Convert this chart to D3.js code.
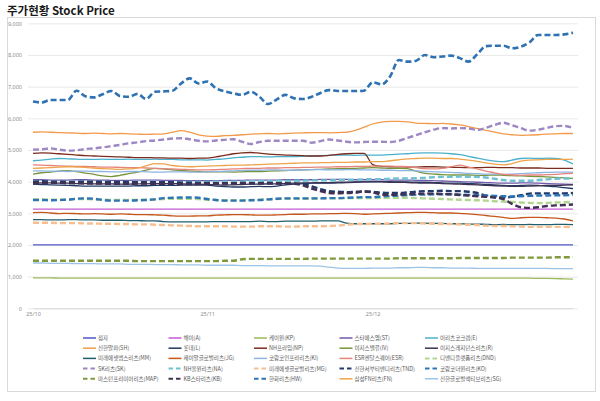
<!DOCTYPE html>
<html><head><meta charset="utf-8">
<script src="https://cdn.jsdelivr.net/npm/d3@7"></script>
<style>
body{margin:0;background:#fff;}
svg{display:block;font-family:"Noto Sans CJK KR","Noto Sans",sans-serif;}
</style></head><body>
<svg id="c" width="600" height="401"></svg>
<script>
// ---------- DATA ----------
const dates = ["10/01","10/02","10/10","10/13","10/14","10/15","10/16","10/17","10/20","10/21",
"10/22","10/23","10/24","10/27","10/28","10/29","10/30","10/31","11/03","11/04",
"11/05","11/06","11/07","11/10","11/11","11/12","11/13","11/14","11/17","11/18",
"11/19","11/20","11/21","11/24","11/25","11/26","11/27","11/28","12/01","12/02",
"12/03","12/04","12/05","12/08","12/09","12/10","12/11","12/12","12/15","12/16",
"12/17","12/18","12/19","12/22","12/23","12/24","12/26","12/29","12/30","01/02",
"01/05","01/06","01/07"];
const tickDates = ["10/01","11/05","12/02"];
const tickLabels = ["25/10","25/11","25/12"];
const yTicks = [0,1000,2000,3000,4000,5000,6000,7000,8000,9000];

const names = ["점자","해이(A)","케이원(KP)","스타에스엠(ST)","이리츠코크렙(E)",
"신한알파(SH)","롯데(L)","NH프라임(NP)","이지스밸류(IV)","이지스레지던스리츠(R)",
"미래에셋맵스리츠(MM)","제이알글로벌리츠(JG)","코람코인프라리츠(KI)","ESR켄달스퀘어(ESR)","디앤디플랫폼리츠(DND)",
"SK리츠(SK)","NH올원리츠(NA)","미래에셋글로벌리츠(MG)","신한서부티엔디리츠(TND)","코람코더원리츠(KO)",
"마스턴프리미어리츠(MAP)","KB스타리츠(KB)","한화리츠(HW)","삼성FN리츠(FN)","신한글로벌액티브리츠(SG)"];

const vJJ = [2000,2000,2000,2000,2000,2000,2000,2000,2000,2000,2000,2000,2000,2000,2000,2000,2000,2000,2000,2000,2000,2000,2000,2000,2000,2000,2000,2000,2000,2000,2000,2000,2000,2000,2000,2000,2000,2000,2000,2000,2000,2000,2000,2000,2000,2000,2000,2000,2000,2000,2000,2000,2000,2000,2000,2000,2000,2000,2000,2000,2000,2000,2000];
const vA = [3130,3130,3130,3130,3130,3130,3130,3130,3130,3130,3130,3130,3130,3130,3130,3130,3130,3130,3130,3130,3130,3130,3130,3130,3130,3130,3130,3130,3130,3130,3130,3130,3130,3130,3130,3130,3130,3130,3130,3130,3130,3130,3130,3130,3130,3130,3130,3130,3130,3130,3130,3130,3130,3130,3130,3130,3130,3130,3130,3130,3130,3130,3130];
const vKP = [960,960,960,955,955,955,955,955,955,955,955,955,955,955,955,955,955,955,955,950,950,950,950,950,950,950,950,950,950,950,950,950,950,950,950,950,950,950,950,950,950,950,950,950,950,950,950,950,950,950,950,950,950,950,950,950,950,950,945,945,940,930,920];
const vST = [4060,4060,4050,4050,4050,4060,4060,4050,4050,4040,4040,4040,4050,4050,4050,4040,4040,4040,4030,4030,4030,4030,4040,4040,4040,4050,4050,4050,4050,4060,4060,4060,4060,4070,4070,4070,4070,4060,4060,4060,4060,4050,4050,4050,4040,4040,4030,4020,4010,4000,3990,3980,3970,3960,3950,3950,3960,3960,3950,3940,3930,3920,3910];
const vE = [4660,4680,4710,4730,4720,4710,4700,4700,4710,4700,4700,4710,4700,4700,4710,4700,4700,4690,4690,4690,4680,4700,4720,4750,4770,4790,4790,4780,4790,4790,4790,4800,4810,4820,4830,4840,4840,4830,4840,4840,4840,4850,4870,4880,4900,4910,4910,4900,4880,4850,4800,4740,4690,4650,4630,4680,4730,4740,4730,4740,4730,4680,4560];
const vSH = [5560,5570,5560,5550,5540,5530,5520,5530,5520,5510,5520,5510,5500,5490,5500,5510,5560,5610,5560,5480,5440,5430,5450,5460,5480,5500,5510,5520,5510,5520,5530,5540,5550,5550,5540,5550,5560,5620,5720,5820,5880,5900,5900,5890,5850,5840,5830,5840,5820,5790,5740,5680,5620,5560,5510,5480,5460,5470,5480,5500,5510,5520,5520];
const vL = [3920,3910,3900,3890,3880,3870,3860,3860,3860,3860,3860,3860,3870,3870,3880,3880,3880,3890,3890,3890,3890,3860,3840,3830,3830,3840,3850,3840,3860,3900,3920,3940,3950,3950,3950,3960,3970,3980,3990,4000,4000,4000,3990,3990,3980,3980,3970,3960,3950,3950,3940,3930,3910,3900,3880,3870,3880,3890,3880,3860,3840,3810,3780];
const vNP = [4890,4910,4900,4880,4860,4840,4820,4810,4800,4790,4780,4770,4760,4760,4750,4750,4740,4740,4730,4740,4740,4780,4830,4880,4910,4920,4900,4870,4850,4840,4830,4820,4810,4810,4830,4860,4880,4890,4890,4540,4480,4470,4470,4460,4460,4470,4470,4460,4450,4450,4440,4440,4450,4450,4440,4440,4430,4430,4430,4420,4420,4420,4420];
const vIV = [4240,4280,4300,4330,4350,4320,4270,4230,4180,4160,4200,4250,4300,4360,4420,4400,4370,4350,4330,4320,4310,4310,4310,4300,4310,4320,4320,4330,4340,4350,4360,4370,4380,4390,4400,4410,4410,4420,4430,4440,4430,4420,4420,4410,4330,4260,4240,4220,4210,4210,4210,4200,4200,4210,4200,4190,4180,4170,4160,4150,4130,4120,4100];
const vR = [3950,3960,3960,3950,3950,3940,3940,3930,3930,3930,3920,3920,3930,3930,3940,3940,3940,3930,3920,3920,3910,3900,3890,3900,3910,3920,3920,3930,3930,3940,3950,3960,3960,3970,3970,3980,3980,3990,3990,3990,3990,3980,3980,3970,3960,3950,3950,3940,3930,3920,3910,3900,3880,3870,3860,3850,3850,3860,3870,3880,3880,3890,3900];
const vMM = [2800,2800,2790,2790,2800,2800,2790,2790,2780,2780,2780,2770,2770,2760,2760,2740,2730,2730,2730,2730,2730,2740,2740,2740,2740,2740,2750,2740,2740,2750,2750,2750,2750,2760,2760,2760,2690,2670,2670,2670,2670,2670,2680,2680,2690,2690,2680,2680,2670,2670,2660,2660,2650,2640,2650,2640,2640,2650,2640,2640,2650,2650,2640];
const vJG = [3020,3030,3010,2990,3000,2990,2980,2990,2980,2970,2980,2970,2960,2960,2950,2940,2920,2910,2910,2920,2920,2940,2950,2960,2960,2950,2940,2940,2950,2960,2970,2970,2980,2980,2990,2990,3000,2990,2970,2980,2990,3000,3010,3020,3030,3030,3020,3010,3010,3000,2980,2960,2930,2900,2870,2840,2860,2870,2870,2860,2850,2820,2760];
const vKI = [4340,4340,4330,4330,4320,4330,4330,4320,4320,4310,4310,4320,4320,4310,4300,4300,4310,4310,4300,4300,4310,4320,4330,4340,4350,4360,4360,4370,4370,4360,4360,4370,4380,4380,4370,4370,4380,4380,4370,4370,4360,4360,4350,4350,4340,4320,4310,4300,4290,4280,4260,4250,4240,4240,4230,4240,4250,4270,4280,4290,4300,4300,4300];
const vESR = [4530,4520,4510,4500,4490,4480,4480,4470,4460,4460,4450,4440,4440,4430,4420,4410,4400,4390,4380,4370,4370,4380,4390,4400,4410,4420,4420,4430,4430,4440,4440,4450,4450,4460,4460,4470,4470,4480,4480,4490,4490,4490,4480,4470,4440,4410,4400,4420,4470,4520,4460,4400,4330,4280,4230,4210,4200,4210,4210,4220,4230,4250,4260];
const vDND = [3440,3440,3430,3430,3440,3450,3450,3440,3430,3420,3420,3420,3420,3430,3440,3450,3460,3460,3460,3450,3430,3420,3410,3410,3410,3420,3430,3440,3450,3460,3460,3460,3460,3470,3470,3470,3480,3480,3480,3480,3490,3490,3490,3490,3480,3470,3460,3450,3440,3430,3420,3410,3400,3380,3370,3360,3340,3330,3320,3330,3340,3350,3360];
const vSK = [5010,5020,5050,5010,4980,4990,5030,5050,5080,5120,5160,5210,5240,5280,5300,5330,5360,5370,5340,5290,5270,5300,5320,5340,5260,5190,5250,5290,5290,5290,5290,5290,5230,5280,5330,5300,5260,5240,5250,5260,5260,5250,5290,5380,5470,5560,5640,5690,5680,5690,5680,5630,5700,5790,5860,5780,5690,5610,5640,5700,5750,5760,5690];
const vNA = [3990,4000,4000,3990,3990,4000,4000,3990,3990,3980,3980,3990,3990,3990,3990,3980,3980,3980,3990,3990,3990,4000,4000,4000,4000,4010,4010,4010,4020,4020,4030,4030,4040,4040,4040,4050,4060,4060,4070,4080,4080,4090,4100,4100,4110,4120,4140,4150,4150,4160,4150,4150,4130,4090,4050,4030,4030,4030,4050,4070,4090,4100,4100];
const vMG = [2700,2700,2700,2690,2690,2690,2680,2680,2670,2670,2660,2660,2650,2650,2640,2630,2620,2610,2600,2590,2590,2590,2590,2580,2580,2580,2590,2590,2590,2580,2580,2590,2590,2590,2600,2610,2640,2660,2660,2670,2670,2680,2690,2690,2690,2680,2670,2660,2660,2650,2640,2630,2610,2600,2600,2590,2580,2570,2570,2570,2570,2570,2560];
const vTND = [4000,4010,4000,4000,3990,3990,4000,4000,3990,3990,3990,3990,3980,3980,3980,3980,3980,3970,3970,3960,3960,3950,3950,3950,3960,3950,3950,3960,3950,3950,3940,3920,3850,3760,3700,3680,3670,3680,3690,3680,3650,3640,3640,3660,3680,3700,3700,3710,3700,3700,3680,3640,3560,3510,3500,3520,3570,3620,3630,3630,3630,3630,3640];
const vKO = [3420,3420,3410,3420,3430,3460,3470,3460,3420,3400,3400,3400,3410,3420,3440,3480,3490,3500,3500,3490,3450,3420,3400,3400,3400,3410,3420,3440,3460,3470,3470,3470,3470,3470,3480,3480,3490,3500,3510,3510,3530,3550,3560,3580,3590,3590,3600,3600,3600,3590,3580,3570,3560,3550,3540,3530,3540,3550,3560,3560,3570,3570,3580];
const vMAP = [1500,1500,1500,1500,1500,1500,1500,1500,1500,1500,1500,1500,1490,1490,1490,1490,1490,1490,1490,1490,1490,1490,1500,1500,1550,1560,1560,1560,1560,1560,1560,1560,1570,1570,1570,1570,1570,1570,1570,1570,1570,1570,1580,1580,1580,1580,1580,1580,1580,1590,1590,1590,1590,1590,1590,1600,1600,1600,1600,1600,1610,1610,1610];
const vKB = [3950,3950,3960,3960,3950,3950,3940,3940,3940,3930,3930,3930,3940,3940,3930,3930,3930,3920,3920,3930,3940,3940,3940,3950,3950,3950,3950,3940,3940,3940,3930,3880,3780,3700,3640,3630,3640,3650,3690,3660,3590,3580,3590,3600,3610,3620,3620,3610,3600,3580,3560,3540,3520,3500,3450,3300,3190,3170,3190,3230,3250,3260,3280];
const vHW = [6530,6500,6580,6580,6580,6870,6700,6660,6760,6860,6700,6680,6770,6610,6840,6850,6870,7100,7260,7100,7160,6950,6850,6790,6740,6840,6680,6450,6600,6740,6630,6610,6680,6800,6890,6860,6860,6860,6870,7140,7070,7320,7840,7790,7820,8000,7930,7950,7980,7900,7790,8020,8280,8290,8290,8210,8260,8400,8630,8630,8630,8650,8700];
const vFN = [4420,4430,4440,4460,4470,4460,4450,4430,4410,4400,4390,4400,4430,4500,4570,4560,4510,4480,4470,4480,4490,4500,4510,4520,4520,4530,4540,4550,4560,4570,4580,4590,4590,4600,4600,4610,4610,4620,4620,4630,4630,4660,4690,4720,4730,4740,4740,4730,4730,4710,4680,4640,4590,4550,4530,4570,4650,4680,4690,4700,4700,4700,4710];
const vSG = [1430,1430,1420,1420,1420,1410,1410,1410,1400,1400,1400,1390,1390,1390,1380,1380,1380,1370,1370,1370,1360,1360,1360,1360,1350,1350,1350,1340,1340,1340,1340,1340,1340,1330,1300,1270,1260,1260,1260,1270,1270,1270,1280,1280,1290,1290,1280,1280,1270,1270,1270,1260,1260,1260,1260,1260,1260,1260,1260,1260,1250,1250,1250];

const values = [vJJ,vA,vKP,vST,vE,vSH,vL,vNP,vIV,vR,vMM,vJG,vKI,vESR,vDND,vSK,vNA,vMG,vTND,vKO,vMAP,vKB,vHW,vFN,vSG];

// ---------- STYLES ----------
const colors = ["#5257c9","#c35bd3","#9bbb59","#6e5aa8","#4bb0cc",
"#f39a4a","#1f3864","#7b2c1e","#78953c","#3f3151",
"#215e6e","#c5561a","#8eb4e3","#e6847a","#b1d68e",
"#9d87c4","#6fc1d3","#f9be8d","#223a6a","#2e75b6",
"#7f9a3c","#403152","#2e72b4","#eea34a","#9dc3e6"];
const dashed = [false,false,false,false,false,false,false,false,false,false,false,false,false,false,true,
true,true,true,true,true,true,true,true,false,false];

const svg = d3.select("#c");
const W=600,H=401;
svg.append("rect").attr("x",0).attr("y",0).attr("width",W).attr("height",H).attr("fill","#fff");
svg.append("rect").attr("x",7.5).attr("y",17.5).attr("width",588).attr("height",374)
  .attr("fill","none").attr("stroke","#d9d9d9").attr("stroke-width",1);

svg.append("text").attr("x",7).attr("y",15).attr("font-size",11.5).attr("font-weight","bold")
  .attr("fill","#1a1a1a").attr("font-family","'Noto Sans CJK KR',sans-serif").text("주가현황 Stock Price");

const x = d3.scalePoint().domain(dates).range([33,573]);
const y = d3.scaleLinear().domain([0,9000]).range([308.3,23.3]);

const gy = svg.append("g")
  .call(d3.axisLeft(y).tickValues(yTicks).tickSize(-550).tickFormat(d3.format(",")))
  .attr("transform","translate(28,0)");
gy.select(".domain").remove();
gy.selectAll(".tick line").attr("stroke","#e3e3e3").attr("stroke-width",0.8);
gy.selectAll(".tick text").attr("font-size",5.5).attr("fill","#8c8c8c").attr("x",-6)
  .attr("font-family","'Noto Sans',sans-serif");

const gx = svg.append("g").attr("transform","translate(0,308.3)")
  .call(d3.axisBottom(x).tickValues(tickDates).tickSize(0).tickFormat((d,i)=>tickLabels[i]));
gx.select(".domain").attr("stroke","#d9d9d9");
gx.selectAll(".tick text").attr("font-size",5.5).attr("fill","#8c8c8c").attr("dy","0.9em")
  .attr("font-family","'Noto Sans',sans-serif");

const line = d3.line().x((d,i)=>x(dates[i])).y(d=>y(d)).curve(d3.curveMonotoneX);
const order = d3.range(values.length);
svg.append("g").selectAll("path").data(order).join("path")
  .attr("d",i=>line(values[i]))
  .attr("fill","none")
  .attr("stroke",i=>colors[i])
  .attr("stroke-width",i=>dashed[i]?(i===22?2.6:2.4):1.3)
  .attr("stroke-dasharray",i=>dashed[i]?"6,3":null)
  .attr("stroke-linejoin","round");

const lg = svg.append("g");
const colX = [83,168.5,254,339.5,425];
const rowY = [338,348.2,358.4,368.6,378.8];
names.forEach((n,i)=>{
  const cx = colX[i%5], cy = rowY[Math.floor(i/5)];
  lg.append("line").attr("x1",cx).attr("x2",cx+13).attr("y1",cy).attr("y2",cy)
    .attr("stroke",colors[i]).attr("stroke-width",dashed[i]?2:1.5)
    .attr("stroke-dasharray",dashed[i]?"4.5,3":null);
  lg.append("text").attr("x",cx+15).attr("y",cy).attr("dy","0.35em")
    .attr("font-size",5.5).attr("fill","#595959").text(n);
});
</script>
</body></html>
